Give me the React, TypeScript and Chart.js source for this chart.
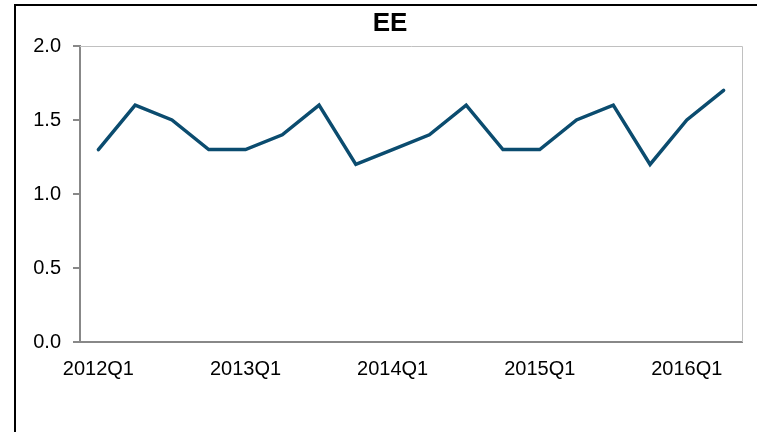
import React, { useEffect, useRef } from "react";
import { Chart, registerables } from "chart.js";

Chart.register(...registerables);

const title = "EE";
const categories = [
  "2012Q1", "2012Q2", "2012Q3", "2012Q4",
  "2013Q1", "2013Q2", "2013Q3", "2013Q4",
  "2014Q1", "2014Q2", "2014Q3", "2014Q4",
  "2015Q1", "2015Q2", "2015Q3", "2015Q4",
  "2016Q1", "2016Q2",
];
const values = [1.3, 1.6, 1.5, 1.3, 1.3, 1.4, 1.6, 1.2, 1.3, 1.4, 1.6, 1.3, 1.3, 1.5, 1.6, 1.2, 1.5, 1.7];
const yMin = 0;
const yMax = 2;
const yStep = 0.5;

const FONT = "'Liberation Sans', Arial, sans-serif";

const framePlugin = {
  id: "frameAndTitle",
  afterDraw(chart: any) {
    const { ctx, chartArea } = chart;
    ctx.save();
    ctx.strokeStyle = "#c0c0c0";
    ctx.lineWidth = 1;
    ctx.beginPath();
    ctx.moveTo(chartArea.left, chartArea.top + 0.5);
    ctx.lineTo(chartArea.right + 0.5, chartArea.top + 0.5);
    ctx.lineTo(chartArea.right + 0.5, chartArea.bottom);
    ctx.stroke();
    ctx.fillStyle = "#000";
    ctx.font = `bold 26px ${FONT}`;
    ctx.textAlign = "center";
    ctx.textBaseline = "middle";
    ctx.fillText(title, 390, 24);
    ctx.restore();
  },
};

export default function App() {
  const ref = useRef<HTMLCanvasElement>(null);
  useEffect(() => {
    document.body.style.margin = "0";
    const chart = new Chart(ref.current!, {
      type: "line",
      data: {
        labels: categories,
        datasets: [
          {
            data: values,
            borderColor: "#0b4c6f",
            borderWidth: 3.5,
            pointRadius: 0,
            tension: 0,
            borderCapStyle: "round",
          },
        ],
      },
      options: {
        animation: false,
        responsive: false,
        maintainAspectRatio: false,
        layout: { padding: { top: 46, right: 15, left: 0, bottom: 0 } },
        plugins: { legend: { display: false }, title: { display: false }, tooltip: { enabled: false } },
        scales: {
          x: {
            type: "category",
            offset: true,
            grid: { display: false, drawTicks: false },
            border: { display: true, color: "#888888", width: 2 },
            ticks: {
              autoSkip: false,
              maxRotation: 0,
              padding: 15,
              color: "#000",
              font: { family: FONT, size: 20 },
              callback: (_v: any, i: number) => (i % 4 === 0 ? categories[i] : ""),
            },
            afterFit: (s: any) => {
              s.height = 90;
            },
          },
          y: {
            min: yMin,
            max: yMax,
            grid: { drawOnChartArea: false, drawTicks: true, tickLength: 7, color: "#888888", lineWidth: 2 },
            border: { display: true, color: "#888888", width: 2 },
            ticks: {
              stepSize: yStep,
              padding: 12,
              color: "#000",
              font: { family: FONT, size: 20 },
              callback: (v: any) => Number(v).toFixed(1),
            },
            afterFit: (s: any) => {
              s.width = 80;
            },
          },
        },
      },
      plugins: [framePlugin],
    } as any);
    return () => chart.destroy();
  }, []);
  return (
    <div style={{ position: "relative", width: 757, height: 432, overflow: "hidden", background: "#fff" }}>
      <canvas ref={ref} width={757} height={432} style={{ position: "absolute", left: 0, top: 0 }} />
      <div
        style={{
          position: "absolute",
          left: 14,
          top: 4,
          width: 800,
          height: 500,
          borderLeft: "2px solid #000",
          borderTop: "2px solid #000",
          pointerEvents: "none",
        }}
      />
    </div>
  );
}
